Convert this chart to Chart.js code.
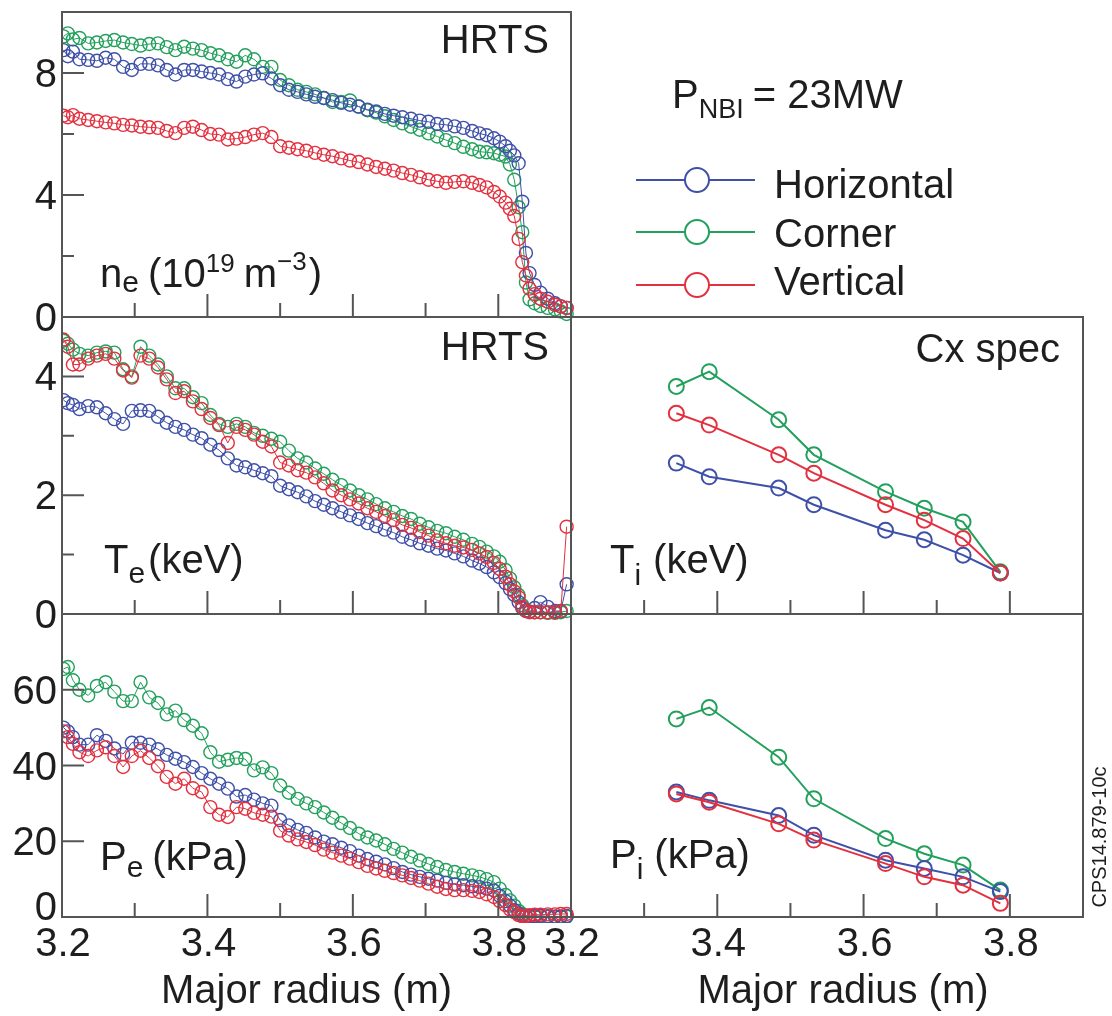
<!DOCTYPE html>
<html>
<head>
<meta charset="utf-8">
<title>HRTS / Cx profiles</title>
<script src="https://cdn.jsdelivr.net/npm/chart.js@4.4.1/dist/chart.umd.min.js"></script>
<style>
  html, body { margin: 0; padding: 0; background: #fff; }
  #wrap { position: relative; width: 1112px; height: 1016px; }
  #wrap canvas { position: absolute; left: 0; top: 0; }
</style>
</head>
<body>
<div id="wrap">
  <canvas id="ne" width="1112" height="1016"></canvas>
  <canvas id="te" width="1112" height="1016"></canvas>
  <canvas id="pe" width="1112" height="1016"></canvas>
  <canvas id="ti" width="1112" height="1016"></canvas>
  <canvas id="pi" width="1112" height="1016"></canvas>
</div>
<script>
// series
const seriesNames = ['Horizontal', 'Corner', 'Vertical'];
const seriesColors = ['#3e50a8', '#22a05c', '#e3303e'];

// HRTS major radius (m)
const hrtsR = [
  3.202, 3.208, 3.215, 3.224, 3.236, 3.248, 3.260, 3.272, 3.284, 3.296,
  3.308, 3.320, 3.332, 3.344, 3.356, 3.368, 3.380, 3.392, 3.404, 3.416,
  3.428, 3.440, 3.452, 3.464, 3.476, 3.488, 3.500, 3.512, 3.524, 3.536,
  3.548, 3.560, 3.572, 3.584, 3.596, 3.608, 3.620, 3.632, 3.644, 3.656,
  3.668, 3.680, 3.692, 3.704, 3.716, 3.728, 3.740, 3.752, 3.764, 3.774,
  3.784, 3.794, 3.802, 3.810, 3.816, 3.822, 3.828, 3.833, 3.838, 3.843,
  3.850, 3.858, 3.868, 3.878, 3.886, 3.894
];

// ne (10^19 m^-3)
const neHoriz = [
  8.75, 8.55, 8.70, 8.45, 8.43, 8.40, 8.50, 8.45, 8.20, 8.10,
  8.30, 8.30, 8.25, 8.10, 7.95, 8.10, 8.10, 8.05, 8.00, 7.95,
  7.80, 7.72, 7.88, 7.95, 7.99, 7.82, 7.60, 7.45, 7.38, 7.30,
  7.22, 7.18, 7.11, 7.02, 6.96, 6.90, 6.80, 6.74, 6.66, 6.60,
  6.55, 6.50, 6.44, 6.40, 6.33, 6.30, 6.25, 6.20, 6.10, 6.02,
  5.96, 5.86, 5.75, 5.60, 5.45, 5.30, 5.04, 3.78, 2.10, 1.44,
  1.05, 0.80, 0.60, 0.45, 0.35, 0.30
];
const neCorner = [
  9.20, 9.30, 9.10, 9.15, 8.97, 9.00, 9.05, 9.08, 9.00, 8.95,
  8.90, 8.95, 8.97, 8.85, 8.75, 8.86, 8.80, 8.75, 8.65, 8.58,
  8.45, 8.37, 8.58, 8.45, 8.20, 8.20, 7.77, 7.60, 7.45, 7.38,
  7.30, 7.18, 7.05, 7.05, 7.10, 6.90, 6.78, 6.70, 6.58, 6.46,
  6.35, 6.24, 6.14, 6.02, 5.92, 5.80, 5.70, 5.58, 5.50, 5.42,
  5.40, 5.37, 5.32, 5.26, 5.00, 4.50, 3.60, 2.78, 1.13, 0.58,
  0.45, 0.36, 0.30, 0.25, 0.18, 0.10
];
const neVert = [
  6.60, 6.55, 6.62, 6.50, 6.46, 6.42, 6.38, 6.35, 6.30, 6.28,
  6.24, 6.22, 6.20, 6.10, 6.03, 6.20, 6.24, 6.13, 6.00, 5.98,
  5.82, 5.85, 5.90, 5.98, 6.03, 5.90, 5.60, 5.55, 5.50, 5.45,
  5.38, 5.32, 5.27, 5.20, 5.13, 5.08, 5.00, 4.92, 4.86, 4.80,
  4.72, 4.66, 4.58, 4.50, 4.45, 4.40, 4.43, 4.45, 4.40, 4.33,
  4.25, 4.10, 3.95, 3.75, 3.55, 3.31, 2.56, 1.80, 1.36, 0.93,
  0.75, 0.60, 0.50, 0.40, 0.35, 0.30
];

// Te (keV)
const teHoriz = [
  3.60, 3.55, 3.52, 3.45, 3.50, 3.48, 3.38, 3.28, 3.20, 3.42,
  3.43, 3.42, 3.32, 3.22, 3.15, 3.10, 3.02, 2.96, 2.85, 2.76,
  2.62, 2.50, 2.47, 2.42, 2.37, 2.32, 2.16, 2.10, 2.05, 1.98,
  1.90, 1.84, 1.78, 1.72, 1.66, 1.60, 1.53, 1.48, 1.42, 1.37,
  1.30, 1.25, 1.19, 1.15, 1.10, 1.07, 1.02, 0.97, 0.90, 0.85,
  0.79, 0.70, 0.62, 0.52, 0.42, 0.32, 0.20, 0.10, 0.05, 0.04,
  0.10, 0.20, 0.12, 0.05, 0.05, 0.50
];
const teCorner = [
  4.60, 4.55, 4.45, 4.38, 4.35, 4.40, 4.42, 4.40, 4.12, 4.00,
  4.50, 4.35, 4.20, 4.00, 3.80, 3.80, 3.65, 3.55, 3.35, 3.20,
  3.15, 3.20, 3.15, 3.05, 3.00, 2.95, 2.90, 2.75, 2.62, 2.55,
  2.45, 2.36, 2.26, 2.17, 2.08, 2.00, 1.93, 1.85, 1.78, 1.72,
  1.65, 1.60, 1.52, 1.46, 1.40, 1.36, 1.30, 1.25, 1.18, 1.13,
  1.05, 0.97, 0.88, 0.74, 0.60, 0.45, 0.32, 0.15, 0.06, 0.04,
  0.03, 0.03, 0.02, 0.02, 0.03, 0.05
];
const teVert = [
  4.62, 4.50, 4.20, 4.20, 4.30, 4.35, 4.38, 4.30, 4.10, 3.98,
  4.35, 4.30, 4.15, 3.95, 3.72, 3.75, 3.58, 3.45, 3.30, 3.18,
  2.88, 3.15, 3.10, 3.02, 2.90, 2.82, 2.55, 2.50, 2.42, 2.38,
  2.30, 2.20, 2.08, 2.00, 1.93, 1.86, 1.78, 1.72, 1.65, 1.58,
  1.50, 1.45, 1.38, 1.32, 1.24, 1.19, 1.15, 1.12, 1.08, 1.02,
  0.96, 0.86, 0.76, 0.63, 0.50, 0.38, 0.28, 0.12, 0.05, 0.03,
  0.03, 0.03, 0.03, 0.03, 0.05, 1.47
];

// Pe (kPa)
const peHoriz = [
  50.0, 49.0, 47.5, 45.5, 45.5, 48.0, 46.5, 44.5, 43.0, 46.0,
  46.0, 45.5, 44.3, 42.8, 41.8, 40.9, 39.6, 38.0, 36.5, 35.2,
  33.9, 31.8, 32.2, 31.0, 30.0, 29.4, 25.6, 24.2, 23.0, 22.2,
  21.0, 19.9, 19.2, 18.3, 17.4, 16.2, 15.3, 14.6, 13.9, 12.9,
  11.9, 11.2, 10.6, 10.1, 9.6, 9.0, 8.6, 8.4, 8.1, 7.9,
  7.5, 7.0, 5.6, 4.2, 3.0, 1.8, 0.9, 0.4, 0.2, 0.2,
  0.2, 0.3, 0.2, 0.1, 0.1, 0.3
];
const peCorner = [
  65.5, 66.0, 62.5, 60.0, 58.5, 61.0, 62.0, 59.5, 57.0, 57.0,
  62.0, 58.0, 56.5, 53.5, 54.5, 52.0, 50.5, 48.5, 43.5, 41.0,
  41.5, 42.0, 41.7, 38.7, 39.5, 38.0, 34.7, 32.8, 31.2, 30.0,
  29.0, 27.6, 26.2, 24.8, 23.5, 22.0, 21.0, 20.2, 19.2, 18.0,
  17.0, 15.9, 14.9, 14.0, 13.2, 12.4, 11.9, 11.4, 11.0, 10.6,
  10.0, 9.2, 7.5, 5.8, 4.4, 3.0, 1.6, 0.8, 0.4, 0.2,
  0.2, 0.2, 0.1, 0.1, 0.1, 0.1
];
const peVert = [
  49.0, 47.5, 45.7, 43.5, 42.5, 44.0, 44.8, 42.5, 39.6, 42.5,
  43.9, 42.0, 39.8, 37.0, 35.2, 36.5, 34.0, 33.0, 29.0, 27.0,
  26.4, 29.0, 28.6, 27.5, 27.0, 26.5, 22.8, 21.5, 20.5, 19.8,
  19.0, 17.8, 17.0, 16.2, 15.4, 14.5, 13.5, 12.8, 12.2, 11.6,
  11.0, 10.3, 9.6, 8.8, 8.0, 7.4, 7.1, 7.1, 6.9, 6.6,
  6.0, 5.3, 4.2, 3.1, 2.0, 1.3, 0.5, 0.2, 0.2, 0.5,
  0.6, 0.6, 0.7, 0.7, 0.8, 0.8
];

// Cx spec
const cxR = [3.344, 3.389, 3.484, 3.532, 3.630, 3.683, 3.736, 3.787];
const tiHoriz = [2.54, 2.31, 2.12, 1.84, 1.41, 1.25, 0.99, 0.69];
const tiCorner = [3.83, 4.08, 3.27, 2.68, 2.06, 1.78, 1.55, 0.71];
const tiVert = [3.38, 3.18, 2.68, 2.37, 1.84, 1.58, 1.27, 0.69];
const piHoriz = [33.0, 30.8, 26.8, 21.6, 15.0, 12.8, 10.6, 6.7];
const piCorner = [52.3, 55.3, 42.2, 31.2, 20.7, 16.7, 13.7, 7.1];
const piVert = [32.5, 30.3, 24.6, 20.3, 14.1, 10.6, 8.4, 3.6];

// ticks
const xTickLabels = [3.2, 3.4, 3.6, 3.8];
const xMajorTicks = [3.4, 3.6, 3.8];
const xMinorTicks = [3.3, 3.5, 3.7];
const neTicks = [0, 4, 8];
const teTicks = [0, 2, 4];
const peTicks = [0, 20, 40, 60];

const FONT = '"Liberation Sans", Arial, Helvetica, sans-serif';
const INK = '#1e1e1e';
const AXIS = '#555';

function pts(xs, ys) {
  return xs.map((x, i) => ({ x: x, y: ys[i] }));
}

function runs(ctx, x, y, parts) {
  parts.forEach(p => {
    x += p.gap || 0;
    ctx.font = p.size + 'px ' + FONT;
    ctx.fillText(p.t, x, y + (p.dy || 0));
    x += ctx.measureText(p.t).width;
  });
}

function drawLegend(ctx) {
  ctx.fillStyle = INK;
  runs(ctx, 672, 108, [
    { t: 'P', size: 40 },
    { t: 'NBI', size: 27, dy: 10 },
    { t: '= 23MW', size: 40, gap: 9 }
  ]);
  const lineY = [180, 232, 285];
  const textY = [198, 247, 295];
  seriesNames.forEach((name, i) => {
    ctx.strokeStyle = seriesColors[i];
    ctx.lineWidth = 2;
    ctx.beginPath();
    ctx.moveTo(636, lineY[i]);
    ctx.lineTo(755, lineY[i]);
    ctx.stroke();
    ctx.beginPath();
    ctx.arc(697, lineY[i], 12, 0, Math.PI * 2);
    ctx.fillStyle = '#fff';
    ctx.fill();
    ctx.stroke();
    ctx.fillStyle = INK;
    ctx.font = '40px ' + FONT;
    ctx.fillText(name, 774, textY[i]);
  });
}

function drawStamp(ctx) {
  ctx.save();
  ctx.translate(1106, 837);
  ctx.rotate(-Math.PI / 2);
  ctx.textAlign = 'center';
  ctx.font = '20px ' + FONT;
  ctx.fillStyle = INK;
  ctx.fillText('CPS14.879-10c', 0, 0);
  ctx.restore();
}

const panels = [
  { id: 'ne', box: [62, 12, 571, 317], yMax: 10, yMajor: [4, 8], yMinor: [2, 6], yLabels: neTicks,
    sets: [neHoriz, neCorner, neVert], xs: hrtsR, tag: 'HRTS', tagY: 53,
    name: { x: 100, y: 287, parts: [
      { t: 'n', size: 40 }, { t: 'e', size: 30, dy: 5 }, { t: '(10', size: 40, gap: 9 },
      { t: '19', size: 26, dy: -15 }, { t: 'm', size: 40, gap: 9 },
      { t: '\u22123', size: 26, dy: -17 }, { t: ')', size: 40, gap: 2 } ] } },
  { id: 'te', box: [62, 317, 571, 614], yMax: 5, yMajor: [2, 4], yMinor: [1, 3], yLabels: teTicks,
    sets: [teHoriz, teCorner, teVert], xs: hrtsR, tag: 'HRTS', tagY: 360,
    name: { x: 104, y: 573, parts: [
      { t: 'T', size: 40 }, { t: 'e', size: 30, dy: 10 }, { t: '(keV)', size: 40, gap: 3 } ] } },
  { id: 'pe', box: [62, 614, 571, 917], yMax: 80, yMajor: [20, 40, 60], yMinor: [], yLabels: peTicks,
    sets: [peHoriz, peCorner, peVert], xs: hrtsR, xLabels: true,
    name: { x: 100, y: 870, parts: [
      { t: 'P', size: 40 }, { t: 'e', size: 30, dy: 7 }, { t: '(kPa)', size: 40, gap: 9 } ] } },
  { id: 'ti', box: [571, 317, 1083, 614], yMax: 5, yMajor: [], yMinor: [],
    sets: [tiHoriz, tiCorner, tiVert], xs: cxR, cx: true, tag: 'Cx spec', tagY: 362,
    name: { x: 610, y: 573, parts: [
      { t: 'T', size: 40 }, { t: 'i', size: 30, dy: 12 }, { t: '(keV)', size: 40, gap: 12 } ] } },
  { id: 'pi', box: [571, 614, 1083, 917], yMax: 80, yMajor: [], yMinor: [],
    sets: [piHoriz, piCorner, piVert], xs: cxR, cx: true, xLabels: true,
    name: { x: 610, y: 868, parts: [
      { t: 'P', size: 40 }, { t: 'i', size: 30, dy: 11 }, { t: '(kPa)', size: 40, gap: 11 } ] } }
];

function framePlugin(p) {
  return {
    id: 'frame_' + p.id,
    afterDraw(chart) {
      const ctx = chart.ctx;
      const a = chart.chartArea;
      const xs = chart.scales.x, ys = chart.scales.y;
      ctx.save();
      ctx.strokeStyle = AXIS;
      ctx.lineWidth = 2;
      ctx.strokeRect(a.left, a.top, a.right - a.left, a.bottom - a.top);

      ctx.beginPath();
      xMajorTicks.forEach(v => {
        const px = xs.getPixelForValue(v);
        ctx.moveTo(px, a.bottom); ctx.lineTo(px, a.bottom - 23);
      });
      xMinorTicks.forEach(v => {
        const px = xs.getPixelForValue(v);
        ctx.moveTo(px, a.bottom); ctx.lineTo(px, a.bottom - 14);
      });
      p.yMajor.forEach(v => {
        const py = ys.getPixelForValue(v);
        ctx.moveTo(a.left, py); ctx.lineTo(a.left + 22, py);
      });
      p.yMinor.forEach(v => {
        const py = ys.getPixelForValue(v);
        ctx.moveTo(a.left, py); ctx.lineTo(a.left + 12, py);
      });
      ctx.stroke();

      ctx.fillStyle = INK;
      ctx.font = '40px ' + FONT;
      ctx.textAlign = 'right';
      (p.yLabels || []).forEach(v => {
        let py = ys.getPixelForValue(v) + 14;
        if (v === 0 && p.xLabels) py -= 11;
        ctx.fillText(String(v), 57, py);
      });
      if (p.xLabels) {
        ctx.textAlign = 'center';
        xTickLabels.forEach(v => {
          ctx.fillText(v.toFixed(1), xs.getPixelForValue(v) + 1, 956);
        });
        ctx.fillText('Major radius (m)', (a.left + a.right) / 2 + (p.cx ? 16 : -10), 1003);
      }
      if (p.tag) {
        ctx.textAlign = 'right';
        ctx.fillText(p.tag, p.cx ? 1060 : 549, p.tagY);
      }
      ctx.textAlign = 'left';
      runs(ctx, p.name.x, p.name.y, p.name.parts);

      if (p.id === 'ne') drawLegend(ctx);
      if (p.id === 'pi') drawStamp(ctx);
      ctx.restore();
    }
  };
}

// draw order: first dataset ends up on top
const drawOrder = [2, 0, 1];

panels.forEach(p => {
  const datasets = drawOrder.map(i => ({
    label: seriesNames[i],
    data: pts(p.xs, p.sets[i]),
    showLine: true,
    borderColor: seriesColors[i],
    backgroundColor: 'rgba(255,255,255,0)',
    borderWidth: p.cx ? 2 : 1,
    pointRadius: p.cx ? 7.5 : 6.5,
    pointBorderWidth: p.cx ? 2 : 1.4,
    pointBorderColor: seriesColors[i],
    pointBackgroundColor: 'rgba(255,255,255,0)',
    tension: 0,
    clip: { left: 0, top: 0, right: 6, bottom: 6 }
  }));
  new Chart(document.getElementById(p.id), {
    type: 'scatter',
    data: { datasets: datasets },
    options: {
      responsive: false,
      animation: false,
      events: [],
      layout: { padding: { left: p.box[0], top: p.box[1], right: 1112 - p.box[2], bottom: 1016 - p.box[3] } },
      plugins: { legend: { display: false }, tooltip: { enabled: false } },
      scales: {
        x: { type: 'linear', min: 3.2, max: 3.9, display: false },
        y: { type: 'linear', min: 0, max: p.yMax, display: false }
      }
    },
    plugins: [framePlugin(p)]
  });
});
</script>
</body>
</html>
